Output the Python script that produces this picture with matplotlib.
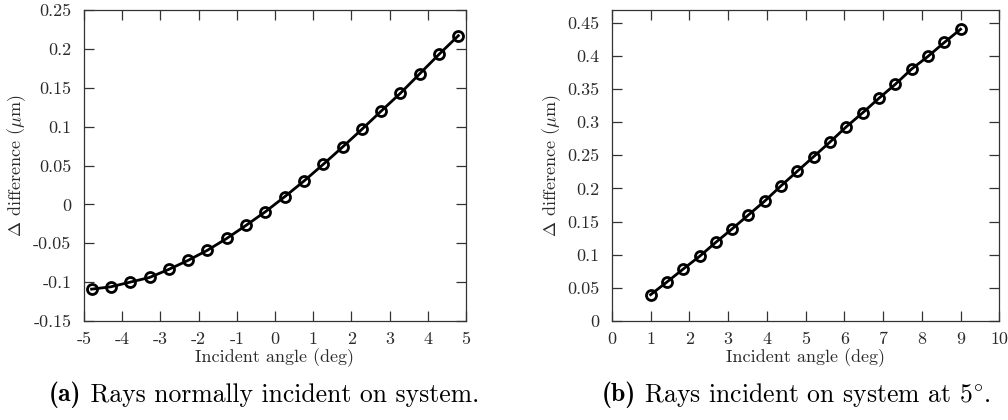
import matplotlib
matplotlib.use('Agg')
import matplotlib.pyplot as plt
from matplotlib.ticker import FuncFormatter, MultipleLocator
import numpy as np

# --- DATA ---
angle_a = np.linspace(-4.8, 4.8, 20)
delta_a = [-0.109, -0.106, -0.100, -0.094, -0.0836, -0.072, -0.059, -0.0438, -0.027, -0.0095,
           0.0098, 0.030, 0.0515, 0.0737, 0.0965, 0.120, 0.143, 0.168, 0.193, 0.217]

angle_b = np.linspace(1.0, 9.0, 20)
delta_b = [0.0397, 0.0588, 0.0784, 0.0975, 0.1187, 0.139, 0.160, 0.181, 0.204, 0.226,
           0.248, 0.270, 0.293, 0.314, 0.336, 0.357, 0.380, 0.399, 0.420, 0.440]

xlabel = 'Incident angle (deg)'
ylabel = r'$\Delta$ difference ($\mu$m)'
caption_a = ('(a)', 'Rays normally incident on system.')
caption_b = ('(b)', r'Rays incident on system at 5$^{\circ}$.')

# --- STYLE ---
plt.rcParams['font.family'] = 'cmr10'
plt.rcParams['mathtext.fontset'] = 'cm'
plt.rcParams['axes.unicode_minus'] = False
plt.rcParams['axes.formatter.use_mathtext'] = True

SPINE = '#333333'
TXT = '#2a2a2a'
FS = 13


def style_axes(ax, xlim, ylim, xstep, ystep):
    ax.set_xlim(*xlim)
    ax.set_ylim(*ylim)
    ax.xaxis.set_major_locator(MultipleLocator(xstep))
    ax.yaxis.set_major_locator(MultipleLocator(ystep))
    fmt = FuncFormatter(lambda v, p: '%g' % round(v, 4))
    ax.xaxis.set_major_formatter(fmt)
    ax.yaxis.set_major_formatter(fmt)
    ax.tick_params(direction='in', length=7, width=0.9, top=True, right=True,
                   labelsize=FS, colors=SPINE, labelcolor=TXT)
    ax.tick_params(axis='x', pad=8)
    ax.tick_params(axis='y', pad=9)
    for s in ax.spines.values():
        s.set_color(SPINE)
        s.set_linewidth(0.9)


fig = plt.figure(figsize=(10.08, 4.2), dpi=100)
ax1 = fig.add_axes([0.0833, 0.2357, 0.379, 0.7405])
ax2 = fig.add_axes([0.607, 0.2357, 0.3844, 0.7405])

line_kw = dict(color='black', lw=2.0, marker='o', markersize=7.2,
               markerfacecolor='none', markeredgewidth=2.0, clip_on=False)

ax1.plot(angle_a, delta_a, **line_kw)
style_axes(ax1, (-5, 5), (-0.15, 0.25), 1, 0.05)

ax2.plot(angle_b, delta_b, **line_kw)
style_axes(ax2, (0, 10), (0, 0.469), 1, 0.05)

for ax, ylab_x in ((ax1, -0.175), (ax2, -0.155)):
    ax.set_xlabel(xlabel, fontsize=FS, color=TXT, va='center')
    ax.xaxis.set_label_coords(0.5, -0.119)
    ax.set_ylabel(ylabel, fontsize=FS, color=TXT, va='center', ha='center')
    ax.yaxis.set_label_coords(ylab_x, 0.5)

# captions: bold tag in cmb10 followed by roman text, centred as a pair
renderer = fig.canvas.get_renderer()
for (tag, text), xc in ((caption_a, 0.262), (caption_b, 0.79)):
    t1 = fig.text(0, 0.0595, tag, family='cmb10', fontsize=18.5, va='center')
    t2 = fig.text(0, 0.0595, ' ' + text, fontsize=18.5, va='center')
    w1 = t1.get_window_extent(renderer).width / fig.bbox.width
    w2 = t2.get_window_extent(renderer).width / fig.bbox.width
    x0 = xc - (w1 + w2) / 2
    t1.set_x(x0)
    t2.set_x(x0 + w1)

fig.savefig('out.png', dpi=100)
plt.close(fig)
